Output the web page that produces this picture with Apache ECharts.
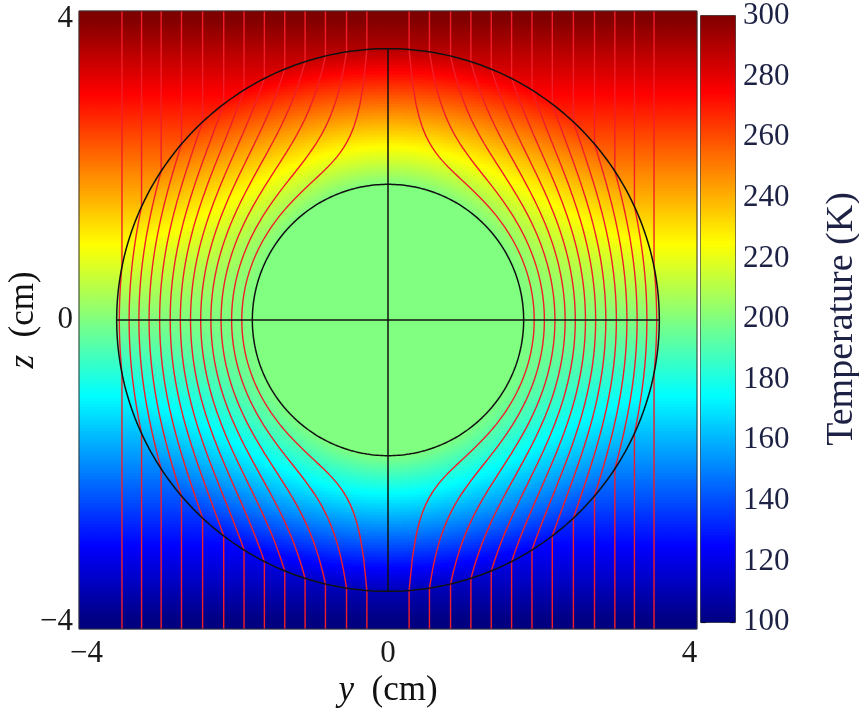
<!DOCTYPE html>
<html>
<head>
<meta charset="utf-8">
<script src="https://cdn.jsdelivr.net/npm/echarts@6/dist/echarts.min.js"></script>
<style>
html,body{margin:0;padding:0;background:#fff;}
#chart{width:859px;height:721px;}
</style>
</head>
<body>
<div id="chart"></div>
<script>
// ---- values ----
const axisTicks = [-4, 0, 4];                 // y and z tick labels (cm)
const axisRange = [-4.1, 4.1];                // visible extent (cm)
const innerRadius = 1.8;                      // cm, inner (cloaked) circle
const outerRadius = 3.6;                      // cm, outer circle
const centerTemp = 200;                       // K at z = 0 and inside inner circle
const tempGradient = 25;                      // K per cm along z (100 K at z=-4, 300 K at z=4)
const colorbarRange = [100, 300];             // K
const colorbarStep = 20;                      // K
// horizontal positions (cm) of the red heat-flux lines, read at the bottom edge
const streamOffsets = [-3.53, -3.27, -3.01, -2.74, -2.46, -2.18, -1.91, -1.64, -1.37, -1.10, -0.83, -0.55, -0.28,
                        0.28, 0.55, 0.83, 1.10, 1.37, 1.64, 1.91, 2.18, 2.46, 2.74, 3.01, 3.27, 3.53];
const jetColors = ['#000080', '#0000ff', '#0080ff', '#00ffff', '#80ff80', '#ffff00', '#ff8000', '#ff0000', '#800000'];

// ---- build the field for the heatmap ----
const N = 206;   // cells per side
const M = 202;   // colorbar cells
const R = axisRange[1];
function temperature(y, z) {
  const r = Math.sqrt(y * y + z * z);
  let t;
  if (r <= innerRadius) t = centerTemp;
  else if (r <= outerRadius) {
    const rr = outerRadius * (r - innerRadius) / (outerRadius - innerRadius);
    t = centerTemp + tempGradient * rr * (z / r);
  } else t = centerTemp + tempGradient * z;
  return Math.max(colorbarRange[0], Math.min(colorbarRange[1], t));
}
const cats = [];
for (let i = 0; i < N; i++) cats.push(i);
const field = [];
for (let i = 0; i < N; i++) {
  const y = -R + (i + 0.5) * 2 * R / N;
  for (let j = 0; j < N; j++) {
    const z = -R + (j + 0.5) * 2 * R / N;
    field.push([i, j, temperature(y, z)]);
  }
}
const cbCats = [];
const cbData = [];
for (let j = 0; j < M; j++) {
  cbCats.push(j);
  cbData.push([0, j, colorbarRange[0] + (j + 0.5) * (colorbarRange[1] - colorbarRange[0]) / M]);
}

// heat-flux lines: vertical outside, compressed around the inner circle within the shell
function streamline(c) {
  const pts = [[c, -R]];
  const ac = Math.abs(c), s = Math.sign(c);
  if (ac < outerRadius) {
    const tmax = Math.acos(ac / outerRadius);
    const K = 120;
    for (let k = 0; k <= K; k++) {
      const th = -tmax + 2 * tmax * k / K;
      const rp = innerRadius + (outerRadius - innerRadius) * ac / (outerRadius * Math.cos(th));
      pts.push([s * rp * Math.cos(th), rp * Math.sin(th)]);
    }
  }
  pts.push([c, R]);
  return pts;
}
function circle(rad) {
  const pts = [];
  for (let k = 0; k <= 360; k++) {
    const th = k * Math.PI / 180;
    pts.push([rad * Math.cos(th), rad * Math.sin(th)]);
  }
  return pts;
}

const FONT = 'Liberation Serif';
const minus = v => String(v).replace('-', '\u2212');

const series = [
  { type: 'heatmap', xAxisIndex: 0, yAxisIndex: 0, data: field, progressive: 0, silent: true, emphasis: { disabled: true } },
  { type: 'heatmap', xAxisIndex: 2, yAxisIndex: 2, data: cbData, progressive: 0, silent: true, emphasis: { disabled: true } }
];
streamOffsets.forEach(c => series.push({
  type: 'line', xAxisIndex: 1, yAxisIndex: 1, data: streamline(c), showSymbol: false, silent: true,
  lineStyle: { color: '#f01e28', width: 1.4 }, z: 3
}));
const black = { color: '#111', width: 1.5 };
series.push({ type: 'line', xAxisIndex: 1, yAxisIndex: 1, data: circle(outerRadius), showSymbol: false, silent: true, lineStyle: black, z: 4 });
series.push({ type: 'line', xAxisIndex: 1, yAxisIndex: 1, data: circle(innerRadius), showSymbol: false, silent: true, lineStyle: black, z: 4 });
series.push({ type: 'line', xAxisIndex: 1, yAxisIndex: 1, data: [[-outerRadius, 0], [outerRadius, 0]], showSymbol: false, silent: true, lineStyle: black, z: 4 });
series.push({ type: 'line', xAxisIndex: 1, yAxisIndex: 1, data: [[0, -outerRadius], [0, outerRadius]], showSymbol: false, silent: true, lineStyle: black, z: 4 });

const option = {
  animation: false,
  backgroundColor: '#fff',
  grid: [
    { left: 79, top: 11, width: 618, height: 618, show: true, borderColor: '#333', borderWidth: 1, backgroundColor: 'transparent', z: 5, outerBoundsMode: 'none', containLabel: false },
    { left: 701, top: 16, width: 34, height: 606, show: true, borderColor: '#111', borderWidth: 1.5, backgroundColor: 'transparent', outerBoundsMode: 'none', containLabel: false }
  ],
  visualMap: {
    type: 'continuous', show: false, min: colorbarRange[0], max: colorbarRange[1], dimension: 2,
    seriesIndex: [0, 1], inRange: { color: jetColors }
  },
  xAxis: [
    { type: 'category', gridIndex: 0, data: cats, show: false },
    { type: 'value', gridIndex: 0, min: axisRange[0], max: axisRange[1], position: 'bottom',
      axisLine: { show: false }, axisTick: { show: false }, splitLine: { show: false },
      axisLabel: { customValues: axisTicks, formatter: minus, fontFamily: FONT, fontSize: 31, color: '#1a1a1a', margin: 9 },
      name: '{i|y}  (cm)', nameLocation: 'middle', nameGap: 44, nameMoveOverlap: false,
      nameTextStyle: { fontFamily: FONT, fontSize: 35, color: '#111', rich: { i: { fontFamily: FONT, fontSize: 35, fontStyle: 'italic', color: '#111' } } } },
    { type: 'category', gridIndex: 1, data: [0], show: false }
  ],
  yAxis: [
    { type: 'category', gridIndex: 0, data: cats, show: false },
    { type: 'value', gridIndex: 0, min: axisRange[0], max: axisRange[1], position: 'left',
      axisLine: { show: false }, axisTick: { show: false }, splitLine: { show: false },
      axisLabel: { customValues: axisTicks, formatter: minus, fontFamily: FONT, fontSize: 31, color: '#1a1a1a', margin: 6 },
      name: '{i|z}  (cm)', nameLocation: 'middle', nameGap: 38, nameRotate: 90, nameMoveOverlap: false,
      nameTextStyle: { fontFamily: FONT, fontSize: 35, color: '#111', rich: { i: { fontFamily: FONT, fontSize: 35, fontStyle: 'italic', color: '#111' } } } },
    { type: 'category', gridIndex: 1, data: cbCats, show: false },
    { type: 'value', gridIndex: 1, min: colorbarRange[0], max: colorbarRange[1], interval: colorbarStep, position: 'right',
      axisLine: { show: false }, splitLine: { show: false },
      axisTick: { show: true, inside: true, length: 5, lineStyle: { color: '#111', width: 1.2 } },
      axisLabel: { fontFamily: FONT, fontSize: 31, color: '#1d2244', margin: 8 },
      name: 'Temperature (K)', nameLocation: 'middle', nameGap: 88, nameRotate: 90,
      nameTextStyle: { fontFamily: FONT, fontSize: 38, color: '#1d2244' } },
    { type: 'value', gridIndex: 1, min: colorbarRange[0], max: colorbarRange[1], interval: colorbarStep, position: 'left',
      axisLine: { show: false }, splitLine: { show: false }, axisLabel: { show: false },
      axisTick: { show: true, inside: true, length: 5, lineStyle: { color: '#111', width: 1.2 } } }
  ],
  series: series
};
const chart = echarts.init(document.getElementById('chart'), null, { renderer: 'canvas' });
chart.setOption(option);
</script>
</body>
</html>
